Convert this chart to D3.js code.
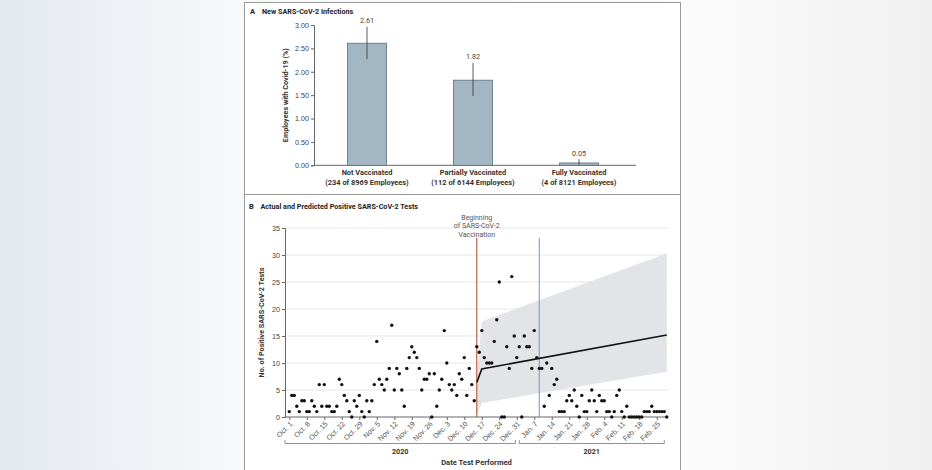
<!DOCTYPE html>
<html><head><meta charset="utf-8">
<script src="https://cdn.jsdelivr.net/npm/d3@7"></script>
<style>
body{margin:0;background:#fff;}
svg{display:block;font-family:Roboto,"Liberation Sans",sans-serif;}
</style>
</head><body>
<svg id="c" width="932" height="470"></svg>
<script>
// ---------- Panel A data ----------
const groups = ["Not Vaccinated", "Partially Vaccinated", "Fully Vaccinated"];
const groupCounts = ["(234 of 8969 Employees)", "(112 of 6144 Employees)", "(4 of 8121 Employees)"];
const rates = [2.61, 1.82, 0.05];
const ciLow = [2.27, 1.48, 0.01];
const ciHigh = [2.96, 2.19, 0.13];
const rateTicks = [0, 0.5, 1, 1.5, 2, 2.5, 3];

// ---------- Panel B data ----------
const startDate = "2020-10-01";
const dailyPositive = [
  1,4,4,2,1,3,3,1,1,3, 2,1,6,2,6,2,2,1,1,2,
  7,6,4,3,1,0,3,2,4,1, 0,3,1,3,6,14,7,6,5,7,
  9,17,5,9,8,5,2,9,11,13, 12,11,9,5,7,7,8,0,8,2,
  5,7,16,10,6,5,6,4,8,7, 11,4,9,6,3,13,12,16,11,10,
  10,10,14,18,25,0,0,13,9,26, 15,11,13,0,15,13,13,9,16,11,
  9,9,2,10,4,9,6,7,1,1, 1,3,4,3,5,2,0,4,1,1,
  3,5,3,1,4,3,3,1,1,0, 1,4,5,1,0,2,0,0,0,0,
  0,0,1,1,1,2,1,1,1,1, 1,0
];
const predDates = ["2020-12-15", "2020-12-17", "2021-03-01"];
const predicted = [6.4, 8.9, 15.2];
const predLow = [0.3, 2.6, 8.4];
const predHigh = [7.5, 17.7, 30.3];
const vaccStart = "2020-12-15";
const secondMark = "2021-01-09";
const dateTickLabels = ["Oct. 1","Oct. 8","Oct. 15","Oct. 22","Oct. 29","Nov. 5","Nov. 12","Nov. 19","Nov. 26","Dec. 3","Dec. 10","Dec. 17","Dec. 24","Dec. 31","Jan. 7","Jan. 14","Jan. 21","Jan. 28","Feb. 4","Feb. 11","Feb. 18","Feb. 25"];
const countTicks = [0, 5, 10, 15, 20, 25, 30, 35];
const years = [
  {label: "2020", from: "2020-09-29T07:00", to: "2020-12-30T11:00"},
  {label: "2021", from: "2021-01-01T00:00", to: "2021-02-28T00:00"}
];

const svg = d3.select("#c").style("opacity", 0.999);
const DAY = 864e5;
const parse = s => new Date(s + (s.length === 10 ? "T00:00:00Z" : ":00Z"));

// background
const defs = svg.append("defs");
const g1 = defs.append("linearGradient").attr("id", "bg").attr("x1", 0).attr("x2", 1);
g1.append("stop").attr("offset", 0).attr("stop-color", "#e4e9ef");
g1.append("stop").attr("offset", 0.25).attr("stop-color", "#f7f8fa");
g1.append("stop").attr("offset", 0.75).attr("stop-color", "#fbfbfb");
g1.append("stop").attr("offset", 1).attr("stop-color", "#f0f0f0");
svg.append("rect").attr("width", 932).attr("height", 470).attr("fill", "url(#bg)");

// panel frame
svg.append("rect").attr("x", 244.5).attr("y", 2.5).attr("width", 436).attr("height", 480)
  .attr("fill", "#fff").attr("stroke", "#9a9a9a").attr("stroke-width", 1);
svg.append("line").attr("x1", 244).attr("x2", 681).attr("y1", 194.5).attr("y2", 194.5)
  .attr("stroke", "#9a9a9a");

const axisCol = "#666";
const txtCol = "#333";

// ================= Panel A =================
const gA = svg.append("g");
gA.append("text").attr("x", 250).attr("y", 13.5).attr("font-size", 7.5).attr("font-weight", 700)
  .attr("fill", "#222").text("A");
gA.append("text").attr("x", 262).attr("y", 13.5).attr("font-size", 7.2).attr("font-weight", 700)
  .attr("fill", "#222").text("New SARS-CoV-2 Infections");

const yA = d3.scaleLinear().domain([0, 3]).range([165.3, 25]);
const xA = d3.scaleBand().domain(groups).range([314, 632]).paddingInner(0.63).paddingOuter(0.315);

const yAxA = gA.append("g").attr("transform", "translate(314,0)")
  .call(d3.axisLeft(yA).tickValues(rateTicks).tickFormat(d3.format(".2f")).tickSize(3).tickPadding(2));
yAxA.select(".domain").attr("stroke", axisCol);
yAxA.selectAll(".tick line").attr("stroke", axisCol);
yAxA.selectAll("text").attr("font-size", 7.2).attr("fill", "#444").attr("font-family", null);

gA.append("line").attr("x1", 314).attr("x2", 636).attr("y1", yA(0)).attr("y2", yA(0)).attr("stroke", axisCol);

gA.append("text").attr("transform", `translate(288,${(yA(0)+yA(3))/2}) rotate(-90)`)
  .attr("text-anchor", "middle").attr("font-size", 7.2).attr("font-weight", 700).attr("fill", txtCol)
  .text("Employees with Covid-19 (%)");

groups.forEach((g, i) => {
  const cx = xA(g) + xA.bandwidth() / 2;
  gA.append("rect").attr("x", xA(g)).attr("y", yA(rates[i]))
    .attr("width", xA.bandwidth()).attr("height", yA(0) - yA(rates[i]))
    .attr("fill", "#a3b6c4").attr("stroke", "#5f6f7b").attr("stroke-width", 0.8);
  gA.append("line").attr("x1", cx).attr("x2", cx).attr("y1", yA(ciLow[i])).attr("y2", yA(ciHigh[i]))
    .attr("stroke", "#333").attr("stroke-width", 0.8);
  gA.append("text").attr("x", cx).attr("y", yA(ciHigh[i]) - 3.5).attr("text-anchor", "middle")
    .attr("font-size", 7.2).attr("fill", "#444").text(rates[i].toFixed(2));
  gA.append("text").attr("x", cx).attr("y", 175.3).attr("text-anchor", "middle")
    .attr("font-size", 7.4).attr("font-weight", 700).attr("fill", txtCol).text(g);
  gA.append("text").attr("x", cx).attr("y", 184.8).attr("text-anchor", "middle")
    .attr("font-size", 7.4).attr("font-weight", 700).attr("fill", txtCol).text(groupCounts[i]);
});

// ================= Panel B =================
const gB = svg.append("g");
gB.append("text").attr("x", 249).attr("y", 208.5).attr("font-size", 7.5).attr("font-weight", 700)
  .attr("fill", "#222").text("B");
gB.append("text").attr("x", 260.5).attr("y", 208.5).attr("font-size", 7.2).attr("font-weight", 700)
  .attr("fill", "#222").text("Actual and Predicted Positive SARS-CoV-2 Tests");

const start = parse(startDate);
const dates = dailyPositive.map((v, i) => d3.utcDay.offset(start, i));
const xB = d3.scaleUtc()
  .domain([new Date(+start - 1.72 * DAY), new Date(+start + 151.5 * DAY)])
  .range([285, 668]);
const yB = d3.scaleLinear().domain([0, 35]).range([417, 228]);

// gridlines
gB.append("g").selectAll("line").data(countTicks.filter(d => d > 0)).join("line")
  .attr("x1", 285).attr("x2", 668).attr("y1", d => yB(d)).attr("y2", d => yB(d))
  .attr("stroke", "#e4e4e4").attr("stroke-width", 0.9);

// prediction band
const bandData = predDates.map((d, i) => ({d: parse(d), lo: predLow[i], hi: predHigh[i], p: predicted[i]}));
gB.append("path").datum(bandData)
  .attr("d", d3.area().x(d => xB(d.d)).y0(d => yB(d.lo)).y1(d => yB(d.hi)))
  .attr("fill", "#e3e4e7");

// vertical markers
gB.append("line").attr("x1", xB(parse(vaccStart))).attr("x2", xB(parse(vaccStart)))
  .attr("y1", 238).attr("y2", yB(0)).attr("stroke", "#c0503e").attr("stroke-width", 1.1);
gB.append("line").attr("x1", xB(parse(secondMark))).attr("x2", xB(parse(secondMark)))
  .attr("y1", 238).attr("y2", yB(0)).attr("stroke", "#7d9ccf").attr("stroke-width", 1.1);

// annotation
const ax = xB(parse(vaccStart));
["Beginning", "of SARS-CoV-2", "Vaccination"].forEach((t, i) => {
  gB.append("text").attr("x", ax).attr("y", 219.5 + i * 8.7).attr("text-anchor", "middle")
    .attr("font-size", 7).attr("fill", "#555").text(t);
});

// prediction line
gB.append("path").datum(bandData)
  .attr("d", d3.line().x(d => xB(d.d)).y(d => yB(d.p)))
  .attr("fill", "none").attr("stroke", "#111").attr("stroke-width", 1.6);

// axes
const yAxB = gB.append("g").attr("transform", "translate(285,0)")
  .call(d3.axisLeft(yB).tickValues(countTicks).tickSize(3).tickPadding(2));
yAxB.select(".domain").attr("stroke", axisCol);
yAxB.selectAll(".tick line").attr("stroke", axisCol);
yAxB.selectAll("text").attr("font-size", 7.2).attr("fill", "#444").attr("font-family", null);

const tickDates = dateTickLabels.map((l, i) => d3.utcDay.offset(start, 7 * i));
const xAxB = gB.append("g").attr("transform", `translate(0,${yB(0)})`)
  .call(d3.axisBottom(xB).tickValues(tickDates).tickSize(3)
    .tickFormat((d, i) => dateTickLabels[i]));
xAxB.select(".domain").attr("stroke", axisCol).attr("d", "M285,0H668");
xAxB.selectAll(".tick line").attr("stroke", axisCol);
xAxB.selectAll("text").attr("font-size", 7.2).attr("fill", "#555").attr("font-family", null)
  .attr("text-anchor", "end").attr("dy", null).attr("y", null)
  .attr("transform", "translate(2,6) rotate(-45)")
  .attr("dominant-baseline", "middle");

// dots
gB.append("g").selectAll("circle").data(dailyPositive).join("circle")
  .attr("cx", (d, i) => xB(dates[i])).attr("cy", d => yB(d)).attr("r", 1.7).attr("fill", "#111");

// y label
gB.append("text").attr("transform", `translate(264,${(yB(0)+yB(35))/2 + 0}) rotate(-90)`)
  .attr("text-anchor", "middle").attr("font-size", 7.2).attr("font-weight", 700).attr("fill", txtCol)
  .text("No. of Positive SARS-CoV-2 Tests");

// year brackets
years.forEach(yr => {
  const x1 = xB(new Date(yr.from + ":00Z")), x2 = xB(new Date(yr.to + ":00Z"));
  gB.append("path").attr("d", `M${x1},440V443.5H${x2}V440`).attr("fill", "none")
    .attr("stroke", "#777").attr("stroke-width", 0.8);
  gB.append("text").attr("x", (x1 + x2) / 2).attr("y", 454).attr("text-anchor", "middle")
    .attr("font-size", 7.2).attr("font-weight", 700).attr("fill", txtCol).text(yr.label);
});

gB.append("text").attr("x", 476.5).attr("y", 465).attr("text-anchor", "middle")
  .attr("font-size", 7.6).attr("font-weight", 700).attr("fill", txtCol).text("Date Test Performed");
</script>
</body></html>
